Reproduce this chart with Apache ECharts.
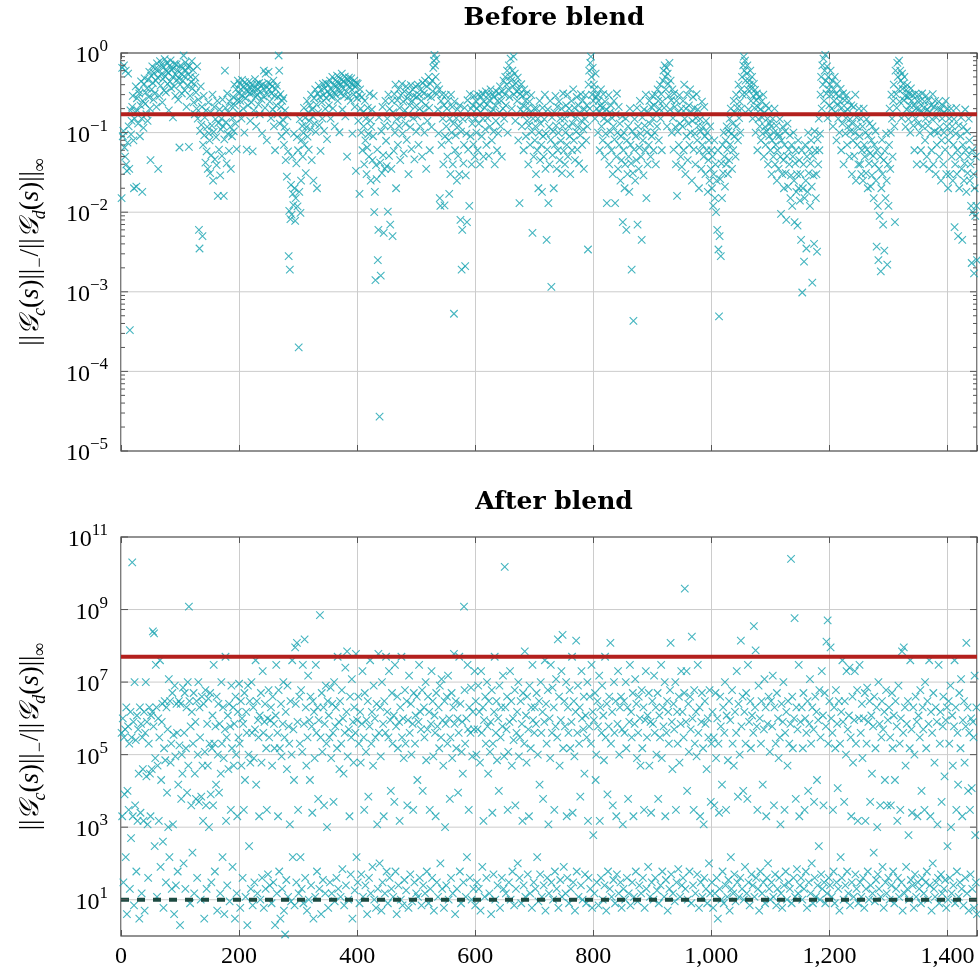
<!DOCTYPE html>
<html><head><meta charset="utf-8">
<script src="https://cdn.jsdelivr.net/npm/echarts@6/dist/echarts.min.js"></script>
<style>html,body{margin:0;padding:0;background:#fff}#c{width:980px;height:973px}</style>
</head><body><div id="c"></div>
<script>
// ---------------- data ----------------
const panelTitles = ['Before blend', 'After blend'];
const xMax = 1450;
const xTickStep = 200;
const beforeThreshold = 0.17;
const afterThreshold = 5e7;
const afterLowerBound = 10;
const beforeYRange = [1e-5, 1];
const afterYRange = [1, 1e11];
const beforeLabelExps = [-5, -4, -3, -2, -1, 0];
const afterLabelExps = [1, 3, 5, 7, 9, 11];

// one value per sample index 1..1450
const beforeValues = [
0.015,0.65,0.09,0.105,0.7,0.065,0.05,0.6,0.04,0.033,0.075,0.55,0.12,0.035,0.00033,0.19,0.095,0.14,0.21,0.29,0.08,0.02,0.15,0.18,0.38,
0.021,0.27,0.19,0.13,0.34,0.31,0.09,0.22,0.44,0.15,0.018,0.25,0.115,0.41,0.48,0.23,0.32,0.17,0.36,0.14,0.46,0.28,0.58,0.2,0.045,
0.52,0.35,0.68,0.42,0.26,0.56,0.31,0.63,0.45,0.21,0.74,0.49,0.035,0.61,0.29,0.79,0.39,0.54,0.71,0.24,0.47,0.66,0.34,0.84,0.51,0.32,0.59,0.76,0.41,0.57,0.19,0.69,0.44,0.81,0.36,0.62,0.5,0.155,0.64,0.38,0.73,0.29,0.53,0.72,0.46,0.6,0.26,0.48,0.065,0.4,
0.7,0.55,0.31,0.64,0.45,0.93,0.51,0.34,0.76,0.6,0.21,0.39,0.66,0.54,0.066,0.69,0.29,0.5,0.43,0.79,0.36,0.61,0.24,0.41,0.17,0.49,0.32,0.2,0.68,0.15,0.26,0.006,0.0035,0.105,0.38,0.125,0.21,0.005,0.07,0.29,0.092,0.155,0.042,0.19,0.058,0.118,0.035,0.24,0.098,0.08,
0.031,0.18,0.052,0.122,0.3,0.025,0.102,0.21,0.046,0.148,0.088,0.039,0.25,0.016,0.132,0.061,0.195,0.029,0.11,0.15,0.051,0.26,0.12,0.016,0.082,0.6,0.205,0.135,0.041,0.31,0.096,0.18,0.059,0.245,0.118,0.035,0.215,0.09,0.152,0.28,0.104,0.4,0.22,0.13,0.35,0.062,0.255,0.45,0.175,0.31,
0.41,0.25,0.35,0.15,0.46,0.29,0.2,0.38,0.1,0.43,0.27,0.34,0.061,0.39,0.22,0.33,0.44,0.31,0.14,0.37,0.24,0.4,0.058,0.32,0.19,0.36,0.47,0.28,0.12,0.41,0.3,0.35,0.225,0.42,0.17,0.33,0.39,0.26,0.098,0.4,0.285,0.6,0.345,0.205,0.55,0.38,0.08,0.3,0.425,0.58,
0.35,0.245,0.41,0.152,0.31,0.38,0.195,0.45,0.12,0.29,0.06,0.355,0.22,0.39,0.17,0.28,0.93,0.6,0.13,0.305,0.21,0.09,0.25,0.145,0.27,0.07,0.118,0.19,0.045,0.103,0.028,0.16,0.058,0.0028,0.0104,0.0019,0.0082,0.022,0.0093,0.05,0.017,0.0123,0.097,0.02,0.0078,0.015,0.041,0.088,0.0118,0.06,
0.0002,0.018,0.148,0.0098,0.025,0.081,0.121,0.05,0.099,0.205,0.07,0.153,0.031,0.117,0.25,0.089,0.18,0.061,0.14,0.22,0.11,0.3,0.045,0.195,0.16,0.025,0.27,0.13,0.35,0.102,0.225,0.02,0.31,0.18,0.39,0.124,0.28,0.059,0.345,0.24,0.15,0.41,0.295,0.105,0.36,0.198,0.42,0.27,0.083,0.33,
0.4,0.22,0.305,0.45,0.15,0.35,0.28,0.5,0.202,0.395,0.32,0.12,0.455,0.298,0.38,0.52,0.25,0.42,0.35,0.101,0.48,0.31,0.405,0.55,0.195,0.36,0.445,0.29,0.505,0.16,0.41,0.33,0.05,0.46,0.28,0.49,0.38,0.425,0.25,0.48,0.345,0.097,0.4,0.302,0.45,0.21,0.375,0.033,0.42,0.27,
0.41,0.14,0.3,0.017,0.35,0.2,0.1,0.28,0.06,0.18,0.12,0.04,0.25,0.08,0.15,0.03,0.065,0.205,0.096,0.05,0.31,0.142,0.025,0.118,0.195,0.045,0.09,0.29,0.01,0.018,0.0014,0.039,0.026,0.061,0.0025,0.006,0.155,0.000027,0.042,0.0016,0.104,0.031,0.21,0.052,0.0055,0.122,0.035,0.25,0.079,0.038,
0.15,0.0102,0.3,0.051,0.198,0.007,0.12,0.035,0.25,0.005,0.18,0.059,0.305,0.1,0.4,0.02,0.148,0.255,0.07,0.35,0.121,0.205,0.045,0.295,0.16,0.41,0.097,0.245,0.055,0.33,0.19,0.13,0.38,0.081,0.27,0.17,0.03,0.31,0.22,0.117,0.395,0.062,0.25,0.35,0.152,0.29,0.046,0.21,0.38,0.103,
0.28,0.16,0.4,0.07,0.3,0.2,0.12,0.35,0.25,0.05,0.42,0.18,0.31,0.1,0.45,0.22,0.035,0.38,0.14,0.29,0.5,0.205,0.06,0.41,0.28,0.118,0.45,0.33,0.65,0.8,0.95,0.7,0.5,0.85,0.305,0.39,0.195,0.098,0.35,0.015,0.012,0.25,0.07,0.3,0.15,0.04,0.22,0.0122,0.09,0.295,
0.12,0.2,0.05,0.25,0.08,0.017,0.15,0.03,0.3,0.1,0.21,0.04,0.13,0.00053,0.245,0.06,0.092,0.152,0.025,0.196,0.051,0.121,0.03,0.22,0.008,0.103,0.0019,0.006,0.148,0.041,0.07,0.205,0.0021,0.029,0.097,0.0075,0.255,0.061,0.155,0.012,0.305,0.09,0.2,0.04,0.13,0.22,0.071,0.29,0.05,0.15,
0.25,0.1,0.2,0.06,0.3,0.13,0.22,0.04,0.18,0.28,0.09,0.31,0.15,0.05,0.245,0.205,0.11,0.33,0.07,0.225,0.152,0.295,0.051,0.255,0.12,0.35,0.18,0.08,0.305,0.196,0.103,0.28,0.04,0.22,0.14,0.33,0.06,0.25,0.098,0.31,0.18,0.38,0.12,0.25,0.05,0.33,0.2,0.45,0.15,0.3,
0.5,0.22,0.4,0.6,0.1,0.35,0.7,0.28,0.5,0.85,0.45,0.2,0.6,0.38,0.9,0.3,0.55,0.14,0.42,0.33,0.25,0.49,0.08,0.35,0.013,0.305,0.195,0.405,0.12,0.29,0.22,0.06,0.35,0.17,0.25,0.09,0.31,0.14,0.205,0.04,0.122,0.245,0.07,0.18,0.295,0.102,0.0055,0.15,0.05,0.2,
0.08,0.12,0.03,0.2,0.06,0.15,0.02,0.1,0.25,0.045,0.13,0.07,0.018,0.205,0.09,0.05,0.148,0.3,0.035,0.097,0.0045,0.061,0.195,0.013,0.118,0.04,0.25,0.081,0.00115,0.155,0.052,0.104,0.02,0.18,0.07,0.29,0.122,0.035,0.21,0.06,0.099,0.245,0.045,0.15,0.079,0.2,0.031,0.12,0.31,0.059,
0.15,0.04,0.1,0.22,0.07,0.3,0.05,0.12,0.2,0.09,0.03,0.17,0.25,0.06,0.13,0.35,0.08,0.205,0.045,0.152,0.103,0.28,0.061,0.118,0.22,0.041,0.18,0.092,0.305,0.14,0.07,0.255,0.11,0.035,0.195,0.148,0.295,0.08,0.22,0.12,0.0034,0.4,0.6,0.2,0.75,0.9,0.5,0.3,0.65,0.25,
0.4,0.35,0.15,0.55,0.28,0.2,0.3,0.1,0.25,0.18,0.06,0.22,0.35,0.12,0.205,0.08,0.305,0.15,0.05,0.245,0.097,0.195,0.013,0.14,0.07,0.295,0.04,0.18,0.103,0.22,0.06,0.152,0.03,0.12,0.25,0.082,0.013,0.17,0.05,0.31,0.1,0.035,0.21,0.07,0.13,0.025,0.09,0.045,0.16,0.0075,
0.06,0.1,0.02,0.04,0.15,0.006,0.08,0.03,0.12,0.05,0.018,0.2,0.07,0.041,0.0019,0.104,0.031,0.00043,0.061,0.148,0.025,0.09,0.045,0.205,0.007,0.12,0.035,0.065,0.25,0.097,0.05,0.0045,0.155,0.08,0.029,0.195,0.122,0.06,0.3,0.015,0.101,0.04,0.18,0.07,0.25,0.13,0.05,0.21,0.09,0.29,
0.15,0.06,0.22,0.1,0.3,0.04,0.18,0.12,0.35,0.25,0.08,0.2,0.4,0.15,0.305,0.06,0.245,0.45,0.6,0.205,0.7,0.5,0.35,0.65,0.12,0.55,0.41,0.29,0.75,0.195,0.45,0.255,0.1,0.35,0.152,0.061,0.31,0.21,0.118,0.04,0.25,0.016,0.103,0.18,0.07,0.295,0.13,0.05,0.2,0.037,
0.12,0.25,0.06,0.4,0.15,0.03,0.2,0.09,0.3,0.045,0.13,0.22,0.07,0.35,0.1,0.18,0.025,0.14,0.28,0.061,0.205,0.097,0.04,0.152,0.305,0.08,0.195,0.122,0.02,0.059,0.148,0.104,0.035,0.245,0.07,0.118,0.05,0.21,0.09,0.03,0.14,0.06,0.1,0.018,0.045,0.08,0.025,0.12,0.035,0.06,
0.02,0.05,0.012,0.03,0.08,0.015,0.04,0.01,0.025,0.006,0.06,0.0034,0.00049,0.005,0.026,0.0028,0.041,0.015,0.07,0.031,0.1,0.05,0.021,0.08,0.04,0.12,0.061,0.03,0.104,0.045,0.15,0.071,0.2,0.097,0.035,0.13,0.06,0.25,0.09,0.18,0.05,0.3,0.12,0.205,0.08,0.4,0.152,0.245,0.1,0.35,
0.2,0.5,0.3,0.7,0.9,0.6,0.8,0.45,0.305,0.55,0.7,0.35,0.195,0.45,0.4,0.6,0.25,0.355,0.5,0.15,0.29,0.41,0.205,0.345,0.1,0.255,0.31,0.06,0.21,0.148,0.28,0.12,0.195,0.08,0.245,0.155,0.097,0.3,0.05,0.18,0.118,0.07,0.22,0.104,0.15,0.04,0.2,0.09,0.13,0.06,
0.12,0.03,0.08,0.15,0.05,0.1,0.2,0.04,0.07,0.122,0.025,0.06,0.097,0.035,0.09,0.148,0.05,0.0095,0.08,0.03,0.118,0.045,0.02,0.07,0.104,0.031,0.008,0.051,0.13,0.021,0.061,0.04,0.092,0.015,0.029,0.07,0.012,0.05,0.1,0.025,0.0075,0.041,0.06,0.018,0.03,0.0068,0.08,0.02,0.045,0.014,
0.03,0.0045,0.06,0.00098,0.02,0.04,0.0024,0.015,0.07,0.025,0.0035,0.05,0.018,0.1,0.031,0.061,0.012,0.041,0.08,0.021,0.0013,0.051,0.029,0.004,0.104,0.06,0.015,0.03,0.0032,0.082,0.04,0.15,0.06,0.097,0.3,0.5,0.2,0.7,0.4,0.85,0.25,0.6,0.95,0.45,0.31,0.68,0.152,0.5,0.35,0.22,
0.4,0.6,0.3,0.2,0.45,0.12,0.35,0.25,0.5,0.18,0.305,0.08,0.41,0.22,0.15,0.29,0.1,0.245,0.355,0.06,0.205,0.13,0.31,0.04,0.18,0.255,0.097,0.152,0.295,0.07,0.195,0.12,0.25,0.05,0.148,0.104,0.22,0.03,0.13,0.08,0.21,0.051,0.1,0.3,0.025,0.155,0.07,0.118,0.04,0.2,
0.09,0.04,0.15,0.03,0.06,0.12,0.025,0.2,0.07,0.05,0.1,0.031,0.148,0.061,0.02,0.092,0.041,0.13,0.055,0.021,0.08,0.029,0.12,0.051,0.015,0.07,0.04,0.104,0.025,0.0037,0.06,0.012,0.0025,0.035,0.009,0.05,0.0018,0.02,0.081,0.03,0.007,0.045,0.0033,0.059,0.015,0.097,0.025,0.0022,0.04,0.012,
0.07,0.2,0.035,0.1,0.3,0.15,0.05,0.25,0.4,0.12,0.0075,0.6,0.305,0.205,0.75,0.5,0.35,0.8,0.245,0.6,0.45,0.152,0.55,0.355,0.41,0.255,0.5,0.29,0.118,0.345,0.195,0.395,0.28,0.148,0.31,0.22,0.1,0.36,0.25,0.18,0.295,0.122,0.22,0.06,0.305,0.15,0.2,0.04,0.25,0.13,
0.3,0.2,0.1,0.25,0.06,0.18,0.31,0.12,0.04,0.205,0.245,0.08,0.15,0.29,0.05,0.195,0.122,0.255,0.035,0.18,0.097,0.22,0.06,0.148,0.305,0.04,0.21,0.104,0.25,0.03,0.155,0.07,0.2,0.1,0.245,0.05,0.118,0.195,0.025,0.08,0.15,0.22,0.04,0.1,0.18,0.061,0.25,0.03,0.12,0.2,
0.02,0.08,0.15,0.03,0.1,0.2,0.05,0.12,0.025,0.07,0.148,0.0065,0.04,0.097,0.205,0.03,0.06,0.005,0.122,0.02,0.05,0.09,0.155,0.035,0.0045,0.07,0.118,0.025,0.041,0.195,0.06,0.018,0.104,0.031,0.05,0.15,0.08,0.025,0.04,0.012,0.0023,0.06,0.01,0.03,0.0017,0.02,0.009,0.05,0.012,0.0025
];

const afterValues = [
4e5,2e3,1e6,30,3e5,8e3,5e5,150,2e6,4,1e4,6e5,3e3,2e5,20,1.5e6,5e2,3e5,2e10,2e3,8e5,7,1e7,4e3,2.5e5,60,1.2e6,1.5e3,5e5,3e4,3,2e6,2.5e3,7e5,15,3e5,4e4,1.5e3,1.5e6,5,4e5,1e7,2.5e4,8e5,1.2e3,40,2e5,2e6,3e4,2e3,
1.2e6,4e4,1.5e6,2.5e8,6e5,2.2e8,3e2,8e4,3e7,2e6,12,5e4,1e6,1.5e3,3e5,4e7,80,2e4,8e5,2.5e6,4e2,6,1.5e5,3e6,7e4,30,2e6,9e3,5e5,1e3,1.2e7,150,3e6,6e4,2e5,20,5e6,1.2e3,3.5e5,4,8e6,9e4,25,2.5e6,4e5,60,1.5e4,3e6,1.8e5,2,
2.5e6,6e3,1e5,3e4,7e6,100,4e5,5e6,20,1.5e5,2e6,9e3,1e7,5e4,1.2e9,3e6,8,6e5,4e3,1.5e6,200,2e5,5e6,15,3e4,8e5,6e3,3e6,40,1e5,1e7,5e3,2e6,3e5,10,7e3,4e6,5e4,1.5e3,2.5e6,3,1.2e5,6e6,4e3,20,7e5,5e4,3.5e6,1e3,2e5,
5e6,8e3,30,1.5e5,1.2e6,4e3,3e7,2e5,60,6e5,1.5e4,4e6,5,1e5,2.5e6,9e3,7e5,15,3e4,1e7,2e5,150,2e6,8e4,4,5e5,5e7,1.5e3,3e5,25,1.2e6,4e4,2.5e6,9,6e5,3e3,8e6,1.5e5,80,2e6,5e4,7e5,3,4e6,1e5,15,2e3,1.5e6,3e5,9e6,
2e5,6,3e6,5e4,1e6,40,7e5,3e3,5e6,2e4,12,1.5e6,4e5,2,8e6,1e5,300,3e6,6e4,20,1e7,4e5,7,2e6,8e4,30,5e5,4e7,1.5e4,3e6,15,9e5,3e5,2e3,1.2e6,10,5e6,6e4,40,2e7,4e5,6,8e5,2.5e6,20,1.5e5,3e3,1e6,50,6e6,
3e5,25,9e5,2e6,8,5e4,4e6,30,7e5,1.5e5,2,1.2e6,3e7,15,4e5,2e3,6e6,60,1.5e5,3,2.5e6,9e4,20,7e5,1e7,5,3e5,1.1,1.5e6,35,4e4,8e6,12,6e5,2e5,1.2e3,3e6,9,1e5,4e7,150,5e5,2e4,7,9e7,2.5e6,30,1.2e8,8e5,3e3,
15,4e6,2e5,1.5e2,6e6,20,1.2e5,3e7,8,7e5,1.5e8,40,2e6,5e4,5,3e5,1.5e7,10,9e5,2e4,4e6,25,6e5,2.5e3,3e6,3,1.5e6,8e4,12,3e7,4e5,60,2e6,6e3,9e5,20,7e8,3e5,4,5e6,1.2e5,35,2e6,4e3,7e5,15,8e6,2e5,1e3,3e6,
6,1.2e6,3e5,30,7e6,8e4,15,2.5e6,4e5,5e3,1e7,9,6e5,2e6,40,1.5e5,5e7,20,8e5,4e4,3e6,12,2e5,6e6,70,1e6,3e4,7,4e5,2.5e7,25,1.5e6,7e7,9e4,10,5e5,2e3,4e6,50,3e5,1.2e7,3,8e5,6e4,2e6,18,4e5,6e7,1.5e2,9e5,
30,4e6,2e5,8,1.5e6,6e4,50,7e5,2e7,12,3e5,3e3,5e6,25,1.2e5,9e5,4,3e6,7e3,40,6e5,4e7,15,2e5,1.5e6,80,5e4,8e6,10,1e6,3e5,6,2.5e6,1.2e3,20,6e7,4e5,100,2e6,9e4,5,1e7,30,7e5,2e3,3e6,15,4e5,5e7,60,
1.5e6,8,3e5,2e7,40,9e5,1e4,20,5e6,2e5,12,1.2e6,5e3,3e7,60,6e5,4,4e6,1.5e5,25,8e5,1.5e3,2e6,10,5e7,3e5,7,1e6,8e4,35,6e6,2e5,18,3e6,4e3,9e5,6,1.5e7,4e5,50,2.5e6,1e5,9,7e5,3e3,5e6,30,2e5,1.2e6,15,
4e6,2e4,12,8e5,3e7,40,1.5e6,5e5,7,6e6,1e4,25,2e6,3e5,15,1e7,7e4,60,5e5,4e6,8,1.5e6,3e3,20,7e5,2e7,40,3e6,9e4,5,1.2e6,4e5,2e3,5e6,30,6e5,12,2e6,1.5e5,8e6,100,3e5,1.2e7,20,9e5,5e4,6,3e6,1e3,7e5,
25,4e6,2e5,1.5e7,10,1e6,6e3,3e5,40,5e6,8e4,15,2e6,6e7,7e5,4,3e6,1.5e5,20,1e6,9e3,4e5,5e7,60,2.5e6,8,1.2e5,8e5,3e4,30,1.2e9,6e6,2e5,12,1e6,150,3e7,5e5,3e3,2e6,40,4e5,7e6,10,9e4,1.5e6,20,5e5,2e7,7,
3e6,1e5,30,5e5,8e6,20,1.5e6,6e4,5,2e7,4e5,80,2e6,1.5e3,9e5,12,4e6,2e5,40,1e7,6e5,3e4,3e6,15,1.2e5,8e5,4,6e6,2.5e3,2e5,50,1.5e6,5e7,10,4e5,3e6,7e4,25,1e6,1e4,8e6,6,3e5,2e6,40,6e5,1.5e7,20,9e4,1.5e10,
2e6,15,5e5,4e6,3e3,1.2e5,30,8e5,2e7,10,3e6,5e4,60,1e6,2.5e5,7,6e6,4e3,20,4e5,1.5e6,100,1e7,9e4,40,3e5,3e6,8,7e5,1.5e3,5e6,25,2e5,7e7,12,1.2e6,6e4,4e6,50,5e5,2e3,8e6,15,1.5e5,2e6,6,3e7,9e5,30,4e5,
2e6,20,7e5,5e6,150,1e5,9,3e6,1.5e4,50,1e7,4e5,12,1.5e6,6e3,25,8e5,4e7,5,2.5e6,2e5,40,6e6,1.2e3,15,1e6,8e4,3e7,30,4e5,7e6,10,2e6,3e3,60,6e5,1.2e7,20,3e5,1.5e8,6,4e6,5e4,35,9e5,2e7,12,2e8,1.5e5,80,
3e6,6e5,15,1e7,2e3,40,2e6,4e5,8,6e6,1.5e5,20,8e5,5e7,2.5e3,30,3e6,9e4,5,1.5e6,1.4e8,60,4e5,8e6,12,2e5,2e6,7e3,25,2e7,1e6,10,5e5,4e6,3e4,50,1.2e6,8,3e5,1e7,1.5e3,40,6e5,4e6,20,2e5,3e7,6,1.5e6,600,
9e5,15,5e6,2e4,1e5,30,3e6,6e5,7,1.5e7,1.5e3,2e6,40,4e5,8e6,10,1.2e6,7e4,25,5e7,3e5,5,2.5e6,8e3,60,6e5,4e6,20,1.2e8,2e5,12,1.5e6,4e3,35,1e7,4e5,8,3e6,2e3,50,7e5,2e7,15,1e5,2e6,30,4e6,6,5e5,1.2e3,
20,3e6,4e5,10,1e7,1.5e5,40,2e6,6e3,15,8e5,3e7,7,1.5e6,3e5,30,5e6,2e3,12,7e5,1.2e7,60,2.5e6,8e4,9,4e5,4e6,25,1e6,5e4,15,6e6,1.5e5,40,2e6,3e3,6,9e5,2e7,20,3e5,1.2e6,80,5e6,5e4,12,8e5,2.5e3,30,3e6,
7e5,10,1.5e7,4e5,40,2e6,1e5,18,5e6,6e3,8,1.2e6,3e5,25,3e7,8e4,60,2e6,6e5,12,1e7,2e3,35,4e5,3e6,5,1.5e6,2e5,20,6e6,1.2e8,50,8e5,4e4,15,2.5e6,5e5,9,1e7,3e3,30,1.5e6,2e5,70,4e6,6e4,12,7e5,2e7,25,
1.5e6,40,3e5,5e6,3.8e9,20,8e5,2e7,1e4,10,2.5e6,1.2e5,60,4e6,5e5,8,1.8e8,1e6,25,3e3,6e6,2e5,15,1.5e6,9e4,50,3e7,4e5,6,2e6,2e3,30,8e5,5e6,12,1.5e5,1.2e3,40,3e6,7e5,20,4e4,8,1e6,3e5,100,6e6,15,5e3,2e5,
30,1.5e6,6,3e5,4e3,15,5e6,8e4,40,1e6,3,2e5,2.5e3,20,4e6,6e5,10,1.5e4,60,2e6,8,4e5,1e7,25,3e3,1.2e6,12,7e4,35,3e6,5,9e5,1.5e2,20,6e6,2e5,15,5e4,50,1.5e6,9,4e5,2e7,30,7e3,2.5e6,12,1e5,40,1.4e8,
6e5,20,4e6,1e4,10,1.5e6,80,2e5,5e6,15,6e3,3e7,30,8e5,7,3e6,1.5e5,50,1.2e6,25,4e5,3.5e8,12,2e6,7.5e7,40,6e5,3e3,20,8e6,5,1e6,60,2e5,3e6,15,1.5e4,30,5e5,1.2e7,8,2e6,2e3,40,7e5,100,4e6,20,1.2e5,10,
3e6,30,6e5,1.5e7,12,4e3,2e6,50,2e5,7,5e6,20,1e6,8e4,40,3e5,1.2e3,15,2.5e6,6,8e5,1e7,25,3e3,4e5,60,1.5e6,10,5e4,3e6,30,2e5,20,7e5,2.5e10,8,4e6,1.5e5,40,1e6,5.8e8,12,6e3,2e6,70,5e5,15,3e7,2e3,25,
8e5,40,2e6,10,1.5e5,5e6,20,3e3,1e6,60,4e5,6,3e6,1e4,30,7e5,1.2e7,15,2e5,100,2e6,8,5e5,5e3,40,4e6,12,1.5e6,2e4,25,9e5,300,6e6,10,3e5,50,2e7,20,1.2e6,4e3,30,5e6,8,6e5,1.3e8,15,5e8,2e5,40,3e6,
25,9e7,1e6,12,4e5,3e3,60,2e6,8,1.5e5,6e6,30,7e5,1.2e4,20,3e6,5,2e5,150,1.5e6,40,4e7,8e5,10,5e3,3e6,25,1e5,2e7,60,5e5,15,1.2e6,2.5e7,7,3e5,2e3,30,4e6,6e4,12,9e5,2e7,50,2e5,20,6e6,1.5e3,8,1e6,
3e7,30,4e5,12,2.5e6,8e4,40,1e6,6,5e6,1.5e3,20,2e5,7e6,60,8e5,10,3e6,5e3,25,1.2e6,3e4,15,6e5,200,4e6,9,1.5e5,35,2e6,1e3,50,1e7,20,7e5,4e3,12,3e5,3e6,80,5e5,6,1.5e6,2e4,30,6e6,15,4e3,9e5,40,
2e6,10,3e5,4e3,25,5e6,1.5e5,60,1.2e6,8,2e4,3e6,20,6e5,1.5e3,40,8e6,12,2e5,3e3,1e6,30,7e7,5,4e5,9e7,15,2e6,5e4,80,7e5,20,3e6,600,10,1.5e5,4e7,35,5e5,2.5e3,25,2e6,6,1e5,50,4e6,12,8e5,2e3,30,
1.2e6,20,3e5,6e6,8,1e4,40,2e6,5e5,15,3e3,1e7,30,1.5e5,60,3e6,10,7e5,4e7,25,2e3,1.5e6,5,4e5,100,5e6,20,6e4,12,2e6,30,8e5,1.2e3,40,3e7,8,2e5,1.5e6,50,5e3,15,6e5,4e6,20,2.5e4,35,9e5,6,2e6,300,
10,3e6,2e5,40,8e6,1e3,15,1.2e6,5e4,25,6e5,4e7,8,2e6,3e3,60,4e5,1.5e4,12,5e6,30,1.5e5,1.2e7,20,2e3,9e5,7,3e6,6e4,40,6e5,1.2e8,15,2e6,1e4,5,4e5,3e3,50,1e6,1.2e4,20,8e5,3e5,6,1.5e7,600,30,2e6,4
];

// ---------------- style ----------------
const TEAL = '#17a2b0', RED = '#b3201d', DARK = '#1d4a41', GRIDC = '#cccccc', FRAME = '#262626';
const SERIF = '"Liberation Serif", "DejaVu Serif", serif';
const LABEL_FS = 24;

const grids = [
  { left: 121, top: 53, width: 856, height: 398 },
  { left: 121, top: 537, width: 856, height: 399 }
];

function expLabel(v) {
  const e = Math.round(Math.log10(v));
  return '{b|10}{s|' + (e < 0 ? '\u2212' + (-e) : String(e)) + '}';
}
const tickRich = {
  b: { fontFamily: SERIF, fontSize: LABEL_FS, color: '#000', lineHeight: 30, verticalAlign: 'bottom' },
  s: { fontFamily: SERIF, fontSize: 17, color: '#000', lineHeight: 17, verticalAlign: 'top' }
};
const NAME_FS = 27;
const nameRich = {
  r: { fontFamily: SERIF, fontSize: NAME_FS, color: '#000', lineHeight: 37 },
  g: { fontFamily: SERIF, fontSize: NAME_FS, fontStyle: 'italic', color: '#000', lineHeight: 37 },
  i: { fontFamily: SERIF, fontSize: NAME_FS, fontStyle: 'italic', color: '#000', lineHeight: 37 },
  sb: { fontFamily: SERIF, fontSize: 18, fontStyle: 'italic', color: '#000', lineHeight: 18, verticalAlign: 'bottom' }
};
const yName = '{r|||}{g|\uD835\uDCA2}{sb|c}{r|(}{i|s}{r|)||}{sb|\u2212}{r|/||}{g|\uD835\uDCA2}{sb|d}{r|(}{i|s}{r|)||}{sb|\u221E}';

function xAxes(gi, showLabels) {
  const base = {
    type: 'value', gridIndex: gi, min: 0, max: xMax, interval: xTickStep,
    axisLine: { show: false },
    axisTick: { show: true, inside: true, length: 6, lineStyle: { color: '#555', width: 1 } },
    splitLine: { show: true, lineStyle: { color: GRIDC, width: 1 } }
  };
  return [
    Object.assign({}, base, {
      position: 'bottom',
      axisLabel: {
        show: showLabels, fontFamily: SERIF, fontSize: LABEL_FS, color: '#000', margin: 9,
        formatter: v => (v % 200 === 0 ? v.toLocaleString('en-US') : '')
      }
    }),
    Object.assign({}, base, { position: 'top', axisLabel: { show: false }, splitLine: { show: false } })
  ];
}

function yAxis(gi, range, labelExps, gap) {
  return {
    type: 'log', logBase: 10, gridIndex: gi, min: range[0], max: range[1], interval: 1,
    axisLine: { show: false },
    axisTick: { show: false },
    splitLine: { show: false },
    axisLabel: {
      margin: 13,
      formatter: v => (labelExps.indexOf(Math.round(Math.log10(v))) >= 0 ? expLabel(v) : ''),
      rich: tickRich
    },
    name: yName, nameLocation: 'middle', nameRotate: 90, nameGap: gap,
    nameTextStyle: { rich: nameRich }
  };
}

// y tick/grid decoration lists (positions on the axis)
function decadeList(lo, hi, step) { const a = []; for (let e = lo; e <= hi; e += step) a.push(Math.pow(10, e)); return a; }
const beforeMajor = decadeList(-5, 0, 1);
const beforeMinor = [];
for (let e = -5; e < 0; e++) for (let m = 2; m <= 9; m++) beforeMinor.push(m * Math.pow(10, e));
const afterMajor = decadeList(1, 11, 2);

function tickSeries(xi, yi, values, len) {
  return {
    type: 'custom', xAxisIndex: xi, yAxisIndex: yi, silent: true, z: 5, clip: false,
    encode: { x: 0, y: 1 },
    data: values.map(v => [0, v, len]),
    renderItem: function (params, api) {
      const v = api.value(1), L = api.value(2);
      const p0 = api.coord([0, v]), p1 = api.coord([xMax, v]);
      return { type: 'group', children: [
        { type: 'line', shape: { x1: p0[0], y1: p0[1], x2: p0[0] + L, y2: p0[1] }, style: { stroke: '#555', lineWidth: 1 } },
        { type: 'line', shape: { x1: p1[0], y1: p1[1], x2: p1[0] - L, y2: p1[1] }, style: { stroke: '#555', lineWidth: 1 } }
      ]};
    }
  };
}
function gridLineSeries(xi, yi, values) {
  return {
    type: 'custom', xAxisIndex: xi, yAxisIndex: yi, silent: true, z: 0, clip: false,
    encode: { x: 0, y: 1 },
    data: values.map(v => [0, v]),
    renderItem: function (params, api) {
      const v = api.value(1);
      const p0 = api.coord([0, v]), p1 = api.coord([xMax, v]);
      return { type: 'line', shape: { x1: p0[0], y1: p0[1], x2: p1[0], y2: p1[1] }, style: { stroke: GRIDC, lineWidth: 1 } };
    }
  };
}

const XMARK = 'path://M0,0L10,10M10,0L0,10';
function scatter(xi, yi, values) {
  return {
    type: 'scatter', xAxisIndex: xi, yAxisIndex: yi, z: 2,
    symbol: XMARK, symbolSize: 7.5,
    itemStyle: { color: 'rgba(0,0,0,0)', borderColor: TEAL, borderWidth: 1.1 },
    emphasis: { disabled: true },
    data: values.map((v, i) => [i + 1, v])
  };
}
function hline(xi, yi, value, color, width, type) {
  return {
    type: 'line', xAxisIndex: xi, yAxisIndex: yi, z: 4, symbol: 'none', silent: true,
    lineStyle: { color: color, width: width, type: type, cap: 'butt' },
    data: [[0, value], [xMax, value]]
  };
}

const TITLE_STYLE = { fontFamily: '"DejaVu Serif", serif', fontWeight: 'bold', fontSize: 25, color: '#000' };
const option = {
  animation: false,
  backgroundColor: '#fff',
  title: [
    { text: panelTitles[0], left: 549, top: 1, textAlign: 'center', textStyle: TITLE_STYLE },
    { text: panelTitles[1], left: 549, top: 485, textAlign: 'center', textStyle: TITLE_STYLE }
  ],
  grid: grids.map(g => Object.assign({ show: true, borderColor: FRAME, borderWidth: 1.2, backgroundColor: 'transparent' }, g)),
  xAxis: [].concat(xAxes(0, false), xAxes(1, true)),
  yAxis: [
    yAxis(0, beforeYRange, beforeLabelExps, 72),
    yAxis(1, afterYRange, afterLabelExps, 72)
  ],
  series: [
    gridLineSeries(0, 0, beforeMajor.slice(1, -1)),
    tickSeries(0, 0, beforeMajor, 7),
    tickSeries(0, 0, beforeMinor, 4),
    scatter(0, 0, beforeValues),
    hline(0, 0, beforeThreshold, RED, 4, 'solid'),
    gridLineSeries(2, 1, afterMajor.slice(0, -1)),
    tickSeries(2, 1, afterMajor, 7),
    scatter(2, 1, afterValues),
    hline(2, 1, afterThreshold, RED, 4, 'solid'),
    hline(2, 1, afterLowerBound, DARK, 4, [8, 8])
  ]
};
const chart = echarts.init(document.getElementById('c'), null, { renderer: 'canvas' });
chart.setOption(option);
</script></body></html>
